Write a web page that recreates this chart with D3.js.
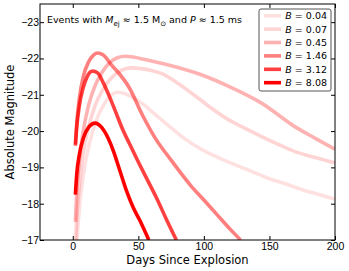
<!DOCTYPE html>
<html>
<head>
<meta charset="utf-8">
<script src="https://cdn.jsdelivr.net/npm/d3@7"></script>
<style>
  body { margin: 0; background: #fff; }
  svg { font-family: "DejaVu Sans", sans-serif; }
  .axis path { display: none; }
  .axis line { stroke: #000; }
  .axis text { font-size: 10.5px; fill: #000; }
</style>
</head>
<body>
<svg id="chart" width="349" height="271"></svg>
<script>
// field strengths, legend labels and line alpha
var fields = ["0.04", "0.07", "0.45", "1.46", "3.12", "8.08"];
var alphas = [0.12, 0.17, 0.3, 0.5, 0.75, 1];

// light curves: [days, absolute magnitude]
var curve004 = [[2.5,-16.5],[4,-17.4],[6,-18.2],[9,-19.0],[13,-19.7],[18,-20.3],[24,-20.75],[29,-20.98],[34,-21.07],[40,-21.03],[47,-20.9],[55,-20.7],[63,-20.45],[73,-20.15],[85,-19.8],[98,-19.5],[111,-19.27],[124,-19.07],[137,-18.88],[149,-18.7],[162,-18.55],[174,-18.4],[187,-18.26],[200,-18.12]];
var curve007 = [[2,-16.9],[3,-17.6],[5,-18.5],[8,-19.4],[12,-20.1],[17,-20.7],[23,-21.15],[30,-21.48],[37,-21.67],[44,-21.74],[52,-21.72],[60,-21.67],[68,-21.58],[80,-21.32],[93,-20.98],[105,-20.65],[118,-20.33],[130,-20.1],[144,-19.85],[157,-19.63],[169,-19.44],[185,-19.27],[200,-19.12]];
var curve045 = [[2,-17.5],[3,-18.3],[5,-19.2],[8,-20.0],[12,-20.7],[17,-21.25],[22,-21.6],[28,-21.88],[34,-22.02],[40,-22.06],[46,-22.04],[55,-21.97],[73,-21.82],[98,-21.55],[119,-21.23],[144,-20.77],[169,-20.13],[185,-19.8],[200,-19.5]];
var curve146 = [[2,-19.65],[3,-20.2],[5,-20.9],[8,-21.5],[12,-21.9],[16,-22.1],[19,-22.15],[23,-22.1],[30,-21.8],[35,-21.6],[43,-21.2],[53,-20.45],[63,-19.8],[75,-19.2],[90,-18.5],[100,-18.1],[110,-17.7],[120,-17.3],[128,-17.0]];
var curve312 = [[2,-19.6],[3,-20.1],[5,-20.7],[8,-21.2],[11,-21.5],[15,-21.65],[19,-21.6],[23,-21.35],[28,-20.95],[33,-20.5],[38,-20.05],[43,-19.67],[50,-19.15],[57,-18.65],[64,-18.15],[71,-17.6],[79,-17.0]];
var curve808 = [[2,-18.25],[3,-18.8],[5,-19.35],[8,-19.8],[12,-20.1],[17,-20.22],[22,-20.1],[27,-19.8],[31,-19.45],[36,-18.9],[41,-18.35],[46,-17.9],[51,-17.55],[58,-17.0]];
var curves = [curve004, curve007, curve045, curve146, curve312, curve808];

var xTicks = [0, 50, 100, 150, 200];
var yTicks = [-17, -18, -19, -20, -21, -22, -23];

var svg = d3.select("#chart");
var padL = 40, padR = 335, padT = 4, padB = 240;

var x = d3.scaleLinear().domain([-25, 200]).range([padL, padR]);
var y = d3.scaleLinear().domain([-17, -23.5]).range([padB, padT]);
var fmt = function (d) { return String(d).replace("-", "\u2212"); };

svg.append("clipPath").attr("id", "clip")
    .append("rect")
    .attr("x", padL).attr("y", padT)
    .attr("width", padR - padL).attr("height", padB - padT);

var line = d3.line()
    .x(function (d) { return x(d[0]); })
    .y(function (d) { return y(d[1]); })
    .curve(d3.curveMonotoneX);

var plot = svg.append("g").attr("clip-path", "url(#clip)");
plot.selectAll("path")
    .data(curves)
    .enter()
    .append("path")
    .attr("d", line)
    .attr("fill", "none")
    .attr("stroke", "#ff0000")
    .attr("stroke-opacity", function (d, i) { return alphas[i]; })
    .attr("stroke-width", 3.6)
    .attr("stroke-linecap", "butt");

// axes, ticks pointing inwards on all four sides
svg.append("g").attr("class", "axis")
    .attr("transform", "translate(0," + padB + ")")
    .call(d3.axisBottom(x).tickValues(xTicks).tickSizeInner(-4).tickPadding(3).tickFormat(fmt));
svg.append("g").attr("class", "axis")
    .attr("transform", "translate(0," + padT + ")")
    .call(d3.axisTop(x).tickValues(xTicks).tickSizeInner(-4).tickFormat(""));
svg.append("g").attr("class", "axis")
    .attr("transform", "translate(" + padL + ",0)")
    .call(d3.axisLeft(y).tickValues(yTicks).tickSizeInner(-4).tickPadding(1).tickFormat(fmt));
svg.append("g").attr("class", "axis")
    .attr("transform", "translate(" + padR + ",0)")
    .call(d3.axisRight(y).tickValues(yTicks).tickSizeInner(-4).tickFormat(""));

svg.append("rect")
    .attr("x", padL).attr("y", padT)
    .attr("width", padR - padL).attr("height", padB - padT)
    .attr("fill", "none").attr("stroke", "#000").attr("stroke-width", 1);

// axis titles
svg.append("text")
    .attr("x", (padL + padR) / 2).attr("y", 264)
    .attr("text-anchor", "middle")
    .style("font-size", "11.5px")
    .text("Days Since Explosion");
svg.append("text")
    .attr("transform", "translate(14," + ((padT + padB) / 2) + ") rotate(-90)")
    .attr("text-anchor", "middle")
    .style("font-size", "11.5px")
    .text("Absolute Magnitude");

// annotation
var note = svg.append("text")
    .attr("x", 47).attr("y", 23)
    .style("font-size", "9.5px");
note.append("tspan").text("Events with ");
note.append("tspan").style("font-style", "italic").text("M");
note.append("tspan").attr("dy", 2.5).style("font-size", "7px").text("ej");
note.append("tspan").attr("dy", -2.5).text(" \u2248 1.5 M");
note.append("tspan").attr("dy", 2.5).style("font-size", "7px").text("\u2299");
note.append("tspan").attr("dy", -2.5).text(" and ");
note.append("tspan").style("font-style", "italic").text("P");
note.append("tspan").text(" \u2248 1.5 ms");

// legend
var legend = svg.append("g");
legend.append("rect")
    .attr("x", 259).attr("y", 9)
    .attr("width", 72).attr("height", 82)
    .attr("rx", 2)
    .attr("fill", "#fff").attr("stroke", "#555").attr("stroke-width", 1);

var rows = legend.selectAll("g.row")
    .data(fields)
    .enter()
    .append("g")
    .attr("class", "row")
    .attr("transform", function (d, i) { return "translate(0," + (15.7 + 13.4 * i) + ")"; });
rows.append("line")
    .attr("x1", 264).attr("x2", 281)
    .attr("stroke", "#ff0000")
    .attr("stroke-opacity", function (d, i) { return alphas[i]; })
    .attr("stroke-width", 3.6);
var labels = rows.append("text")
    .attr("x", 327).attr("y", 3.5)
    .attr("text-anchor", "end")
    .style("font-size", "9.5px");
labels.append("tspan").style("font-style", "italic").text("B");
labels.append("tspan").text(function (d) { return " = " + d; });
</script>
</body>
</html>
